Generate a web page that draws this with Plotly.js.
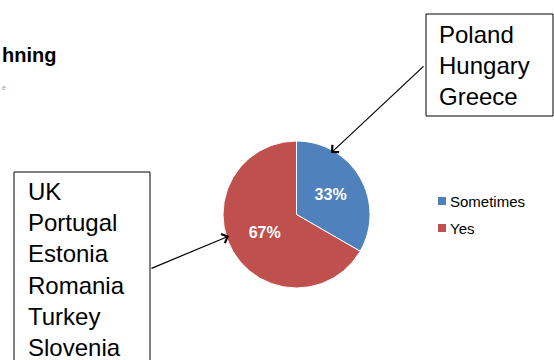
<!DOCTYPE html>
<html><head><meta charset="utf-8">
<script src="https://cdn.plot.ly/plotly-3.0.1.min.js"></script>
<style>html,body{margin:0;padding:0;background:#fff}#c{width:554px;height:360px}</style>
</head><body><div id="c"></div>
<script>
const labels = ["Sometimes", "Yes"];
const values = [3, 6];
const colors = ["#4F81BD", "#C0504D"];
const sometimesCountries = ["Poland", "Hungary", "Greece"];
const yesCountries = ["UK", "Portugal", "Estonia", "Romania", "Turkey", "Slovenia"];
const titleFragment = "hning";
const subtitleFragment = "e";

const W = 554, H = 360;
const px = x => x / W, py = y => 1 - y / H;

const shapes = [];
const annotations = [];

// title fragment (chart title is cut off at the left edge in the reference)
annotations.push({xref:'paper', yref:'paper', x:px(0), y:py(55), xanchor:'left', yanchor:'middle',
  text:'<b>'+titleFragment+'</b>', showarrow:false, font:{family:'Liberation Sans, Arial', size:20, color:'#000'}});
annotations.push({xref:'paper', yref:'paper', x:px(0), y:py(87), xanchor:'left', yanchor:'middle',
  text:subtitleFragment, showarrow:false, font:{family:'Liberation Sans, Arial', size:7, color:'#999'}});

// boxes
shapes.push({type:'rect', xref:'paper', yref:'paper', x0:px(14), x1:px(150), y0:py(172), y1:py(370),
  line:{color:'#000', width:1}, fillcolor:'#fff', layer:'above'});
shapes.push({type:'rect', xref:'paper', yref:'paper', x0:px(426), x1:px(553), y0:py(14), y1:py(116),
  line:{color:'#000', width:1}, fillcolor:'#fff', layer:'above'});

annotations.push({xref:'paper', yref:'paper', x:px(26), y:py(176), xanchor:'left', yanchor:'top', align:'left',
  text: yesCountries.join('<br>'), showarrow:false, font:{family:'Liberation Sans, Arial', size:24, color:'#000'}});
annotations.push({xref:'paper', yref:'paper', x:px(437), y:py(19), xanchor:'left', yanchor:'top', align:'left',
  text: sometimesCountries.join('<br>'), showarrow:false, font:{family:'Liberation Sans, Arial', size:24, color:'#000'}});

// arrows
annotations.push({xref:'paper', yref:'paper', x:px(229), y:py(236), ax:-79, ay:33, text:'', showarrow:true,
  arrowhead:4, arrowsize:1.6, arrowwidth:1.2, arrowcolor:'#000'});
annotations.push({xref:'paper', yref:'paper', x:px(331), y:py(153), ax:94, ay:-88, text:'', showarrow:true,
  arrowhead:4, arrowsize:1.6, arrowwidth:1.2, arrowcolor:'#000'});

// legend
labels.forEach((l, i) => {
  const cy = 201 + i * 27;
  shapes.push({type:'rect', xref:'paper', yref:'paper', x0:px(438), x1:px(446), y0:py(cy+4), y1:py(cy-4),
    line:{width:0}, fillcolor:colors[i]});
  annotations.push({xref:'paper', yref:'paper', x:px(448), y:py(cy), xanchor:'left', yanchor:'middle',
    text:l, showarrow:false, font:{family:'Liberation Sans, Arial', size:15, color:'#000'}});
});

const trace = {
  type:'pie', labels:labels, values:values, sort:false, direction:'clockwise', rotation:0,
  marker:{colors:colors, line:{color:'#fff', width:1}},
  texttemplate:'%{percent:.0%}', textposition:'inside', insidetextorientation:'horizontal',
  textfont:{family:'Liberation Sans, Arial', size:16, color:'#fff', weight:'bold'},
  domain:{x:[px(223), px(370)], y:[py(288), py(141)]},
  showlegend:false, hoverinfo:'none'
};

Plotly.newPlot('c', [trace], {
  width:W, height:H, margin:{l:0, r:0, t:0, b:0},
  paper_bgcolor:'#fff', plot_bgcolor:'#fff', showlegend:false,
  shapes:shapes, annotations:annotations
}, {staticPlot:true});
</script></body></html>
